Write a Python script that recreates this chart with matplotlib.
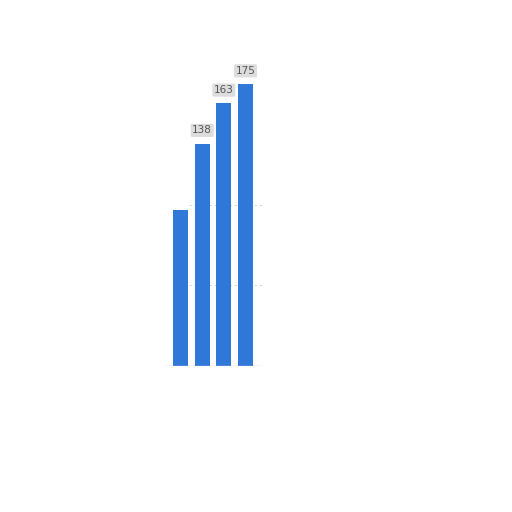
import matplotlib
matplotlib.use("Agg")
import matplotlib.pyplot as plt

categories = ["A", "B", "C", "D"]
values = [97, 138, 163, 175]
labels = ["", "138", "163", "175"]

bar_color = "#2f78d8"

fig = plt.figure(figsize=(5.12, 5.12), dpi=100)
# axes placed where the reference plot area sits (pixels 165..262 x, 50..366 y)
ax = fig.add_axes([165 / 512, (512 - 366) / 512, 97 / 512, 316 / 512])

x = range(len(categories))
ax.bar(x, values, width=0.68, color=bar_color, zorder=2)

for yv in (50, 100):
    ax.axhline(yv, xmin=0.25, color="#bbbbbb", lw=0.6, ls=(0, (3, 3)),
               zorder=1, alpha=0.7)
ax.axhline(0, color="#cccccc", lw=1.0, zorder=3)

for xi, v, lab in zip(x, values, labels):
    if not lab:
        continue
    ax.annotate(lab, (xi, v), xytext=(0, 6), textcoords="offset points",
                ha="center", va="bottom", fontsize=7.5, color="#555555",
                bbox=dict(boxstyle="round,pad=0.15", fc="#dddddd", ec="none"),
                zorder=4)

ax.set_xlim(-0.715, 3.76)
ax.set_ylim(0, 196.2)
ax.axis("off")

fig.savefig("out.png", dpi=100, facecolor="white")
